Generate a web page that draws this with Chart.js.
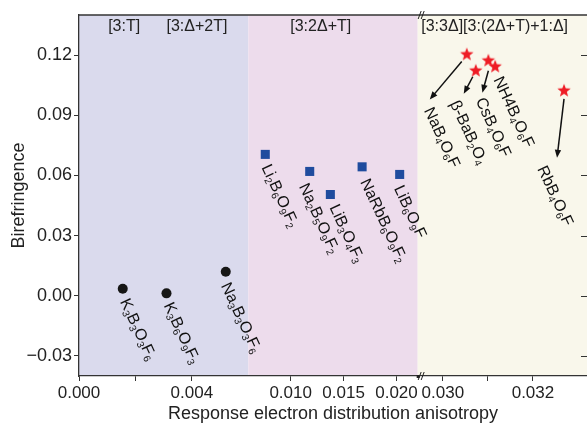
<!DOCTYPE html>
<html>
<head>
<meta charset="utf-8">
<script src="https://cdn.jsdelivr.net/npm/chart.js@4"></script>
<style>
  html, body { margin: 0; padding: 0; background: #fff; }
</style>
</head>
<body>
<canvas id="chart" width="587" height="425"></canvas>
<script>
// data
const circleNames = ['K_3B_3O_3F_6', 'K_3B_6O_9F_3', 'Na_3B_3O_3F_6'];
const circleX = [0.00155, 0.0031, 0.0052];
const circleY = [0.0035, 0.0012, 0.012];

const squareNames = ['Li_2B_6O_9F_2', 'Na_2B_5O_9F_2', 'LiB_3O_4F_3', 'NaRbB_6O_9F_2', 'LiB_6O_9F'];
const squareX = [0.0076, 0.0118, 0.01375, 0.01675, 0.0203];
const squareY = [0.0705, 0.062, 0.0505, 0.0643, 0.0605];

const starNames = ['NaB_4O_6F', 'β-BaB_2O_4', 'CsB_4O_6F', 'NH4B_4O_6F', 'RbB_4O_6F'];
const starX = [0.03053, 0.03073, 0.03101, 0.03116, 0.03269];
const starY = [0.1203, 0.1122, 0.1172, 0.1142, 0.1022];

const xTicks = [0, 0.002, 0.004, 0.010, 0.015, 0.020, 0.030, 0.031, 0.032];
const xTickLabels = ['0.000', '', '0.004', '0.010', '0.015', '0.020', '0.030', '', '0.032'];
const yTicks = [-0.03, 0, 0.03, 0.06, 0.09, 0.12];

const regionNames = ['[3:T]', '[3:Δ+2T]', '[3:2Δ+T]', '[3:3Δ][3:(2Δ+T)+1:Δ]'];

// layout / style stuff
const FONT = '"Liberation Sans", Arial, sans-serif';
const segStart = [0, 0.006, 0.02944];   // broken axis: each piece takes a third of the width
const segEnd = [0.006, 0.022, 0.0332];
const regionFrom = [0, 0.006, 0.02944];
const regionTo = [0.006, 0.022, 0.0332];
const regionColors = ['#dadaed', '#eddcec', '#f9f7eb'];
const regionLabelAt = [0.0016, 0.00418, 0.01284, 0.02952];
const regionLabelAlign = ['center', 'center', 'center', 'left'];

const circleLabelOff = [[1, 11], [1, 10], [-1, 12]];
const squareLabelOff = [[0, 11], [-7, 13], [3, 11], [2, 13], [-2, 12]];
const starLabelOff = [[-39, 54], [-22, 31], [-9, 38], [2, 11], [-23, 76]];
const starArrows = [[-5, 7, -37, 45], [-3, 6, -12, 23], [0, 10, -6, 32], null, [0, 8, -7, 67]];
const LABEL_ANGLE = 65;

function toFrac(v) {
  for (let i = 0; i < segStart.length; i++) {
    if (v <= segEnd[i] || i === segStart.length - 1) {
      const t = Math.max(0, (v - segStart[i]) / (segEnd[i] - segStart[i]));
      return (i + t) / segStart.length;
    }
  }
}
function fromFrac(f) {
  const n = segStart.length;
  const i = Math.min(n - 1, Math.floor(f * n));
  const t = f * n - i;
  return segStart[i] + t * (segEnd[i] - segStart[i]);
}

class BrokenScale extends Chart.LinearScale {
  getPixelForValue(v) { return this.getPixelForDecimal(toFrac(v)); }
  getValueForPixel(p) { return fromFrac(this.getDecimalForPixel(p)); }
}
BrokenScale.id = 'broken';
BrokenScale.defaults = Chart.LinearScale.defaults;
Chart.register(BrokenScale);

function makeStar(r, color) {
  const c = document.createElement('canvas');
  const s = Math.ceil(r * 2 + 2);
  c.width = s; c.height = s;
  const g = c.getContext('2d');
  g.fillStyle = color;
  g.beginPath();
  for (let k = 0; k < 10; k++) {
    const rr = k % 2 ? r * 0.42 : r;
    const a = -Math.PI / 2 + k * Math.PI / 5;
    g.lineTo(s / 2 + rr * Math.cos(a), s / 2 + rr * Math.sin(a));
  }
  g.closePath();
  g.fill();
  return c;
}

function drawFormula(ctx, text, x, y, angle) {
  ctx.save();
  ctx.translate(x, y);
  ctx.rotate(angle * Math.PI / 180);
  ctx.textBaseline = 'middle';
  ctx.textAlign = 'left';
  ctx.fillStyle = '#111';
  let cx = 0;
  for (let i = 0; i < text.length; i++) {
    let ch = text[i], sub = false;
    if (ch === '_') { sub = true; ch = text[++i]; }
    ctx.font = (sub ? '10px ' : '16px ') + FONT;
    ctx.fillText(ch, cx, sub ? 4.5 : 0);
    cx += ctx.measureText(ch).width;
  }
  ctx.restore();
}

function arrow(ctx, x1, y1, x2, y2) {
  const a = Math.atan2(y2 - y1, x2 - x1);
  const L = 8, W = 3.2;
  ctx.beginPath();
  ctx.moveTo(x1, y1);
  ctx.lineTo(x2 - L * 0.8 * Math.cos(a), y2 - L * 0.8 * Math.sin(a));
  ctx.stroke();
  ctx.beginPath();
  ctx.moveTo(x2, y2);
  ctx.lineTo(x2 - L * Math.cos(a) - W * Math.sin(a), y2 - L * Math.sin(a) + W * Math.cos(a));
  ctx.lineTo(x2 - L * Math.cos(a) + W * Math.sin(a), y2 - L * Math.sin(a) - W * Math.cos(a));
  ctx.closePath();
  ctx.fill();
}

const decor = {
  id: 'decor',
  beforeDraw(chart) {
    const { ctx, chartArea: ca, scales: { x } } = chart;
    ctx.save();
    regionFrom.forEach((f, i) => {
      const l = x.getPixelForValue(f), r = x.getPixelForValue(regionTo[i]);
      ctx.fillStyle = regionColors[i];
      ctx.fillRect(l, ca.top, r - l, ca.bottom - ca.top);
    });
    ctx.restore();
  },
  afterDatasetsDraw(chart) {
    const { ctx, chartArea: ca, scales: { x, y } } = chart;
    ctx.save();
    // region names
    ctx.fillStyle = '#222';
    ctx.font = '16px ' + FONT;
    ctx.textBaseline = 'middle';
    regionNames.forEach((t, i) => {
      ctx.textAlign = regionLabelAlign[i];
      ctx.fillText(t, x.getPixelForValue(regionLabelAt[i]), 27);
    });
    // formula labels
    const groups = [[0, circleNames, circleLabelOff], [1, squareNames, squareLabelOff], [2, starNames, starLabelOff]];
    groups.forEach(([di, names, offs]) => {
      const meta = chart.getDatasetMeta(di);
      names.forEach((n, i) => {
        const p = meta.data[i];
        drawFormula(ctx, n, p.x + offs[i][0], p.y + offs[i][1], LABEL_ANGLE);
      });
    });
    // arrows
    ctx.strokeStyle = '#111';
    ctx.fillStyle = '#111';
    ctx.lineWidth = 1.5;
    const sm = chart.getDatasetMeta(2);
    starArrows.forEach((a, i) => {
      if (!a) return;
      const p = sm.data[i];
      arrow(ctx, p.x + a[0], p.y + a[1], p.x + a[2], p.y + a[3]);
    });
    // frame: top line and right inner ticks
    ctx.strokeStyle = '#333';
    ctx.lineWidth = 1.3;
    ctx.beginPath();
    ctx.moveTo(ca.left, ca.top);
    ctx.lineTo(ca.right, ca.top);
    ctx.stroke();
    ctx.lineWidth = 1;
    yTicks.forEach(v => {
      const py = Math.round(y.getPixelForValue(v)) + 0.5;
      ctx.beginPath();
      ctx.moveTo(ca.right - 6, py);
      ctx.lineTo(ca.right, py);
      ctx.stroke();
    });
    // axis break marks
    const bx = x.getPixelForValue(segStart[2]);
    ctx.lineWidth = 1;
    ctx.strokeStyle = '#222';
    [ca.top, ca.bottom].forEach(by => {
      [0, 3].forEach(dx => {
        ctx.beginPath();
        ctx.moveTo(bx + dx + 0.5, by + 4);
        ctx.lineTo(bx + dx + 3.5, by - 4);
        ctx.stroke();
      });
    });
    ctx.fillStyle = '#222';
    ctx.fillRect(bx - 1, ca.bottom - 1, 3, 3);
    ctx.restore();
  }
};

new Chart(document.getElementById('chart'), {
  type: 'scatter',
  data: {
    datasets: [
      {
        label: 'T',
        data: circleX.map((v, i) => ({ x: v, y: circleY[i] })),
        pointStyle: 'circle',
        pointRadius: 5,
        backgroundColor: '#161616',
        borderColor: '#161616',
        borderWidth: 0
      },
      {
        label: '2Δ+T',
        data: squareX.map((v, i) => ({ x: v, y: squareY[i] })),
        pointStyle: 'rect',
        pointRadius: 6.4,
        backgroundColor: '#1f4c9e',
        borderColor: '#1f4c9e',
        borderWidth: 0
      },
      {
        label: '3Δ',
        data: starX.map((v, i) => ({ x: v, y: starY[i] })),
        pointStyle: makeStar(7, '#ee1c25'),
        pointRadius: 7
      }
    ]
  },
  options: {
    responsive: false,
    animation: false,
    events: [],
    layout: { autoPadding: false, padding: { top: 15, left: 0, right: 0, bottom: 0 } },
    plugins: { legend: { display: false }, tooltip: { enabled: false } },
    scales: {
      x: {
        type: 'broken',
        position: 'bottom',
        min: 0,
        max: segEnd[2],
        bounds: 'data',
        afterBuildTicks: s => { s.ticks = xTicks.map(v => ({ value: v })); },
        afterFit: s => { s.height = 49; s.paddingLeft = 0; s.paddingRight = 0; },
        grid: { display: true, drawOnChartArea: false, drawTicks: true, tickLength: 5, color: '#333' },
        border: { display: true, color: '#333', width: 1.3 },
        ticks: {
          autoSkip: false,
          maxRotation: 0,
          padding: 2,
          color: '#222',
          font: { family: FONT, size: 17 },
          callback: (v, i) => xTickLabels[i]
        },
        title: {
          display: true,
          text: 'Response electron distribution anisotropy',
          color: '#222',
          font: { family: FONT, size: 18 },
          padding: { top: 4, bottom: 0 }
        }
      },
      y: {
        min: -0.04,
        max: 0.14,
        bounds: 'data',
        afterBuildTicks: s => { s.ticks = yTicks.map(v => ({ value: v })); },
        afterFit: s => { s.width = 79; s.paddingTop = 0; s.paddingBottom = 0; },
        grid: { display: true, drawOnChartArea: false, drawTicks: true, tickLength: 5, color: '#333' },
        border: { display: true, color: '#333', width: 1.3 },
        ticks: {
          padding: 2,
          color: '#222',
          font: { family: FONT, size: 18 },
          callback: v => v.toFixed(2).replace('-', '−')
        },
        title: {
          display: true,
          text: 'Birefringence',
          color: '#222',
          font: { family: FONT, size: 18 },
          padding: { top: 8, bottom: 0 }
        }
      }
    }
  },
  plugins: [decor]
});
</script>
</body>
</html>
